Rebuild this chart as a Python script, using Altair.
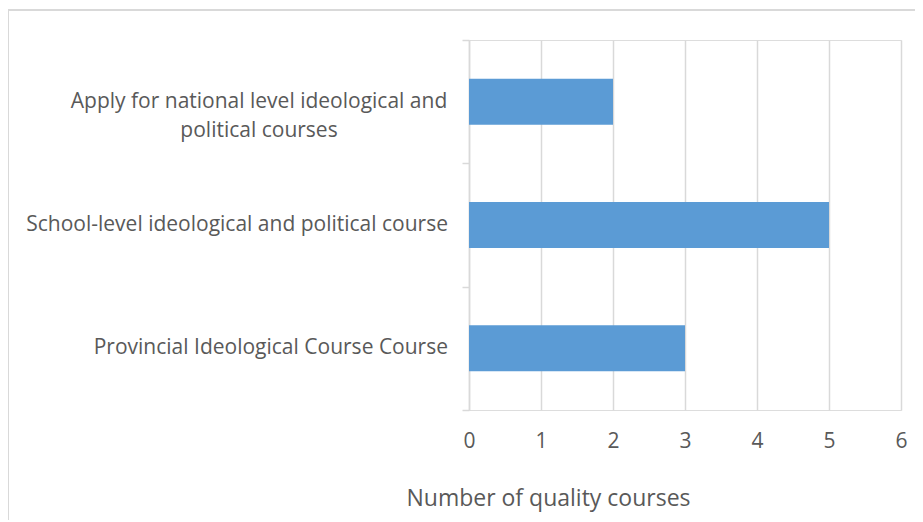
import altair as alt
import pandas as pd

categories = [
    "Apply for national level ideological and political courses",
    "School-level ideological and political course",
    "Provincial Ideological Course Course",
]
label_lines = [
    "Apply for national level ideological and\npolitical courses",
    "School-level ideological and political course",
    "Provincial Ideological Course Course",
]
values = [2, 5, 3]
x_ticks = [0, 1, 2, 3, 4, 5, 6]
x_title = "Number of quality courses"

df = pd.DataFrame({"category": categories, "value": values, "label": label_lines})

FONT = "Open Sans"
TXT = "#595959"
GRID = "#d9d9d9"
LSIZE = 21

y_enc = alt.Y(
    "category:N",
    sort=categories,
    scale=alt.Scale(paddingInner=0, paddingOuter=0),
    axis=alt.Axis(
        title=None,
        grid=False,
        domain=True,
        domainColor=GRID,
        domainWidth=1.5,
        ticks=True,
        tickBand="extent",
        tickColor=GRID,
        tickWidth=1.5,
        tickSize=7,
        labels=False,
    ),
)

bars = alt.Chart(df).mark_bar(
    color="#5B9BD5", opacity=1, height=alt.RelativeBandSize(band=0.373)
).encode(
    x=alt.X(
        "value:Q",
        scale=alt.Scale(domain=[0, 6], nice=False, zero=True),
        axis=alt.Axis(
            values=x_ticks,
            title=x_title,
            grid=True,
            gridColor=GRID,
            gridWidth=1.5,
            domain=False,
            ticks=False,
            labelFlush=False,
            labelFont=FONT,
            labelFontSize=LSIZE,
            labelColor=TXT,
            labelPadding=20,
            titleFont=FONT,
            titleFontSize=23,
            titleFontWeight="normal",
            titleColor=TXT,
            titleX=79,
            titleY=95,
            titleAlign="center",
            titleBaseline="alphabetic",
        ),
    ),
    y=y_enc,
)

single = alt.Chart(df).transform_filter(
    alt.datum.category != categories[0]
).mark_text(
    align="right", baseline="middle", font=FONT, fontSize=LSIZE, color=TXT
).encode(
    y=alt.Y("category:N", sort=categories),
    x=alt.value(-21),
    text="label:N",
)

multi = alt.Chart(df).transform_filter(
    alt.datum.category == categories[0]
).mark_text(
    align="center", baseline="middle", font=FONT, fontSize=LSIZE, color=TXT,
    lineBreak="\n", lineHeight=29,
).encode(
    y=alt.Y("category:N", sort=categories),
    x=alt.value(-210),
    text="label:N",
)

border = alt.Chart(df).mark_rect(
    fill=None, stroke=GRID, strokeWidth=1.5
).encode(
    x=alt.value(-461), x2=alt.value(470),
    y=alt.value(-30), y2=alt.value(500),
)

chart = alt.layer(bars, single, multi, border).properties(
    width=432,
    height=370,
    autosize=alt.AutoSizeParams(type="none"),
    padding={"left": 461, "top": 32, "right": 14, "bottom": 110},
).configure_view(stroke=None).configure(background="white")

chart.save("out.html", embed_options={"renderer": "svg", "actions": False})
